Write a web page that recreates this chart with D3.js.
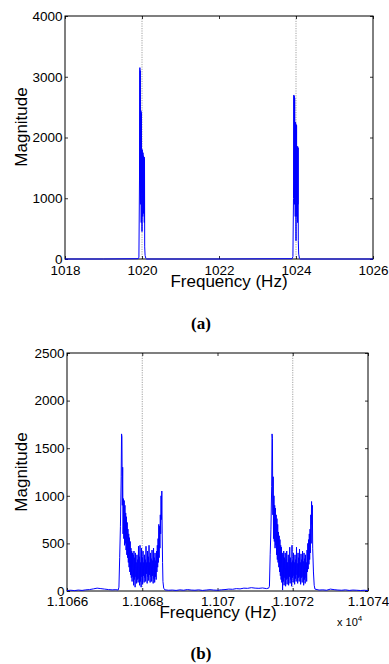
<!DOCTYPE html>
<html>
<head>
<meta charset="utf-8">
<script src="https://cdn.jsdelivr.net/npm/d3@7"></script>
<style>
  body { margin: 0; background: #fff; }
  svg { display: block; }
  text { font-family: "Liberation Sans", Arial, Helvetica, sans-serif; }
</style>
</head>
<body>
<div id="chart"></div>
<script>
// ---- data ----
// (a) low-frequency spectrum, [Hz, magnitude]
const spectrumA = [
  [1018.00, 0], [1019.00, 0], [1019.90, 5], [1019.92, 30],
  [1019.935, 1300], [1019.945, 3150], [1019.950, 1400], [1019.955, 3100],
  [1019.960, 900], [1019.965, 2450], [1019.970, 1200], [1019.975, 2430],
  [1019.980, 600], [1019.985, 2400], [1019.990, 1500], [1019.995, 1800],
  [1020.000, 450], [1020.005, 1800], [1020.010, 1100], [1020.015, 1750],
  [1020.020, 700], [1020.025, 1750], [1020.030, 1300], [1020.035, 1700],
  [1020.040, 750], [1020.045, 1680], [1020.050, 1100], [1020.055, 1680],
  [1020.060, 600], [1020.065, 1650], [1020.070, 200], [1020.080, 60],
  [1020.100, 10], [1020.120, 0],
  [1022.00, 0], [1023.90, 5], [1023.92, 40],
  [1023.935, 1000], [1023.945, 2700], [1023.950, 1300], [1023.955, 2680],
  [1023.960, 900], [1023.965, 2650], [1023.970, 1500], [1023.975, 2250],
  [1023.980, 700], [1023.985, 2250], [1023.990, 1400], [1023.995, 2230],
  [1024.000, 300], [1024.005, 2200], [1024.010, 1000], [1024.015, 2200],
  [1024.020, 700], [1024.025, 1850], [1024.030, 1200], [1024.035, 1850],
  [1024.040, 600], [1024.045, 1850], [1024.050, 900], [1024.055, 1830],
  [1024.060, 300], [1024.070, 80], [1024.090, 10], [1024.110, 0],
  [1026.00, 0]
];
const markersA = [1020, 1024];
const xTicksA = [1018, 1020, 1022, 1024, 1026];
const yTicksA = [0, 1000, 2000, 3000, 4000];

// (b) high-frequency spectrum, [Hz, magnitude]
const baseB1 = [
  [11066.0, 5], [11066.1, 8], [11066.2, 4], [11066.3, 10], [11066.4, 6],
  [11066.5, 12], [11066.6, 15], [11066.7, 22], [11066.8, 30], [11066.9, 25],
  [11067.0, 20], [11067.1, 15], [11067.2, 12], [11067.3, 14]
];
const clusterB1 = [
  [11067.36, 10], [11067.38, 40], [11067.40, 350], [11067.42, 680],
  [11067.44, 1200], [11067.45, 1650], [11067.46, 1620], [11067.47, 900],
  [11067.48, 1300], [11067.49, 600], [11067.50, 970], [11067.51, 550],
  [11067.52, 950], [11067.53, 480], [11067.54, 900], [11067.55, 500],
  [11067.56, 820], [11067.57, 430], [11067.58, 780], [11067.59, 380],
  [11067.60, 720], [11067.61, 350], [11067.62, 650], [11067.63, 300],
  [11067.64, 600], [11067.65, 250], [11067.66, 560], [11067.67, 200],
  [11067.68, 520], [11067.69, 170], [11067.70, 450], [11067.71, 140],
  [11067.72, 420], [11067.73, 100], [11067.74, 400], [11067.75, 150],
  [11067.76, 380], [11067.77, 60], [11067.78, 420], [11067.79, 120],
  [11067.80, 350], [11067.81, 40], [11067.82, 400], [11067.83, 150],
  [11067.84, 300], [11067.85, 80], [11067.86, 380], [11067.87, 120],
  [11067.88, 330], [11067.89, 90], [11067.90, 470], [11067.91, 130],
  [11067.92, 360], [11067.93, 60], [11067.94, 480], [11067.95, 100],
  [11067.96, 300], [11067.97, 40], [11067.98, 450], [11067.99, 150],
  [11068.00, 350], [11068.01, 70], [11068.02, 420], [11068.03, 160],
  [11068.04, 300], [11068.05, 90], [11068.06, 380], [11068.07, 140],
  [11068.08, 330], [11068.09, 100], [11068.10, 470], [11068.11, 180],
  [11068.12, 300], [11068.13, 80], [11068.14, 420], [11068.15, 150],
  [11068.16, 360], [11068.17, 110], [11068.18, 480], [11068.19, 170],
  [11068.20, 300], [11068.21, 90], [11068.22, 400], [11068.23, 150],
  [11068.24, 340], [11068.25, 100], [11068.26, 430], [11068.27, 160],
  [11068.28, 320], [11068.29, 80], [11068.30, 450], [11068.31, 130],
  [11068.32, 350], [11068.33, 90], [11068.34, 400], [11068.35, 150],
  [11068.36, 320], [11068.37, 120], [11068.38, 420], [11068.39, 200],
  [11068.40, 480], [11068.41, 250], [11068.42, 550], [11068.43, 300],
  [11068.44, 700], [11068.45, 350], [11068.46, 680], [11068.47, 450],
  [11068.48, 800], [11068.49, 600], [11068.50, 1000], [11068.51, 750],
  [11068.52, 1050], [11068.53, 600], [11068.54, 300], [11068.55, 100],
  [11068.57, 30], [11068.60, 12]
];
const baseB2 = [
  [11068.7, 8], [11068.8, 10], [11068.9, 6], [11069.0, 12], [11069.1, 8],
  [11069.2, 15], [11069.3, 10], [11069.4, 8], [11069.5, 12], [11069.6, 6],
  [11069.7, 10], [11069.8, 14], [11069.9, 10], [11070.0, 8], [11070.1, 12],
  [11070.2, 15], [11070.3, 20], [11070.4, 18], [11070.5, 25], [11070.6, 22],
  [11070.7, 30], [11070.8, 28], [11070.9, 35], [11071.0, 30], [11071.1, 28],
  [11071.2, 32], [11071.3, 25]
];
const clusterB2 = [
  [11071.36, 30], [11071.38, 50], [11071.40, 380], [11071.42, 650],
  [11071.44, 1100], [11071.45, 1650], [11071.46, 1600], [11071.47, 800],
  [11071.48, 1200], [11071.49, 550], [11071.50, 1000], [11071.51, 520],
  [11071.52, 900], [11071.53, 450], [11071.54, 870], [11071.55, 480],
  [11071.56, 800], [11071.57, 380], [11071.58, 760], [11071.59, 330],
  [11071.60, 700], [11071.61, 300], [11071.62, 620], [11071.63, 250],
  [11071.64, 580], [11071.65, 200], [11071.66, 540], [11071.67, 160],
  [11071.68, 480], [11071.69, 120], [11071.70, 460], [11071.71, 90],
  [11071.72, 400], [11071.73, 10], [11071.74, 380], [11071.75, 100],
  [11071.76, 420], [11071.77, 60], [11071.78, 350], [11071.79, 140],
  [11071.80, 400], [11071.81, 50], [11071.82, 330], [11071.83, 120],
  [11071.84, 420], [11071.85, 70], [11071.86, 300], [11071.87, 130],
  [11071.88, 380], [11071.89, 60], [11071.90, 330], [11071.91, 150],
  [11071.92, 460], [11071.93, 80], [11071.94, 350], [11071.95, 120],
  [11071.96, 300], [11071.97, 50], [11071.98, 480], [11071.99, 140],
  [11072.00, 320], [11072.01, 90], [11072.02, 400], [11072.03, 160],
  [11072.04, 300], [11072.05, 70], [11072.06, 380], [11072.07, 130],
  [11072.08, 330], [11072.09, 100], [11072.10, 460], [11072.11, 170],
  [11072.12, 290], [11072.13, 80], [11072.14, 400], [11072.15, 140],
  [11072.16, 350], [11072.17, 100], [11072.18, 440], [11072.19, 150],
  [11072.20, 300], [11072.21, 70], [11072.22, 390], [11072.23, 140],
  [11072.24, 330], [11072.25, 90], [11072.26, 420], [11072.27, 150],
  [11072.28, 310], [11072.29, 60], [11072.30, 400], [11072.31, 120],
  [11072.32, 340], [11072.33, 80], [11072.34, 380], [11072.35, 140],
  [11072.36, 300], [11072.37, 100], [11072.38, 430], [11072.39, 200],
  [11072.40, 500], [11072.41, 230], [11072.42, 540], [11072.43, 280],
  [11072.44, 600], [11072.45, 330], [11072.46, 650], [11072.47, 400],
  [11072.48, 800], [11072.49, 500], [11072.50, 940], [11072.51, 700],
  [11072.52, 900], [11072.53, 450], [11072.55, 200], [11072.57, 60],
  [11072.59, 20]
];
const baseB3 = [
  [11072.7, 10], [11072.8, 12], [11072.9, 8], [11073.0, 20], [11073.1, 14],
  [11073.2, 10], [11073.3, 8], [11073.4, 12], [11073.5, 6], [11073.6, 10],
  [11073.7, 8], [11073.8, 5], [11073.9, 8], [11074.0, 5]
];
const markersB = [11068, 11072];
const xTicksB = [11066, 11068, 11070, 11072, 11074];
const xTickLabelsB = ["1.1066", "1.1068", "1.107", "1.1072", "1.1074"];
const yTicksB = [0, 500, 1000, 1500, 2000, 2500];

const W = 389, H = 664;
const svg = d3.select("#chart").append("svg")
  .attr("width", W).attr("height", H);
svg.append("rect").attr("width", W).attr("height", H).attr("fill", "#fff");

function panel(cfg) {
  const x = d3.scaleLinear().domain(cfg.xDomain).range([cfg.left, cfg.right]);
  const y = d3.scaleLinear().domain(cfg.yDomain).range([cfg.bottom, cfg.top]);
  const g = svg.append("g");

  // dotted reference lines
  g.selectAll(".marker")
    .data(cfg.markers)
    .enter().append("line")
    .attr("x1", d => x(d)).attr("x2", d => x(d))
    .attr("y1", cfg.top).attr("y2", cfg.bottom)
    .attr("stroke", "#8c8c8c").attr("stroke-width", 0.8)
    .attr("stroke-dasharray", "1.2,1.2");

  // axes with inward ticks (matlab style)
  const fmtX = cfg.xLabels ? (d, i) => cfg.xLabels[i] : d3.format("d");
  const ax = [
    g.append("g").attr("transform", `translate(0,${cfg.bottom})`)
      .call(d3.axisBottom(x).tickValues(cfg.xTicks).tickSize(-3).tickPadding(cfg.xPad).tickFormat(fmtX)),
    g.append("g").attr("transform", `translate(0,${cfg.top})`)
      .call(d3.axisTop(x).tickValues(cfg.xTicks).tickSize(-3).tickFormat("")),
    g.append("g").attr("transform", `translate(${cfg.left},0)`)
      .call(d3.axisLeft(y).tickValues(cfg.yTicks).tickSize(-3).tickPadding(2.5).tickFormat(d3.format("d"))),
    g.append("g").attr("transform", `translate(${cfg.right},0)`)
      .call(d3.axisRight(y).tickValues(cfg.yTicks).tickSize(-3).tickFormat(""))
  ];
  ax.forEach(a => {
    a.select(".domain").remove();
    a.selectAll("line").attr("stroke", "#000").attr("stroke-width", 0.8);
    a.selectAll("text").attr("fill", "#000").style("font-size", "13.5px")
      .style("font-family", "'Liberation Sans', Arial, sans-serif");
  });

  g.append("rect")
    .attr("x", cfg.left).attr("y", cfg.top)
    .attr("width", cfg.right - cfg.left).attr("height", cfg.bottom - cfg.top)
    .attr("fill", "none").attr("stroke", "#000").attr("stroke-width", 1);

  const line = d3.line().x(d => x(d[0])).y(d => y(d[1]));
  g.append("path")
    .datum(cfg.series)
    .attr("d", line)
    .attr("fill", "none")
    .attr("stroke", "#0000ff")
    .attr("stroke-width", 1)
    .attr("stroke-linejoin", "round");

  // labels
  g.append("text")
    .attr("x", cfg.xLabelX).attr("y", cfg.xLabelY)
    .attr("text-anchor", "middle")
    .style("font-size", "17px")
    .text("Frequency (Hz)");
  g.append("text")
    .attr("transform", `translate(${cfg.yLabelX},${cfg.yLabelY}) rotate(-90)`)
    .attr("text-anchor", "middle")
    .style("font-size", "17px")
    .text("Magnitude");
  g.append("text")
    .attr("x", 201).attr("y", cfg.captionY)
    .attr("text-anchor", "middle")
    .style("font-family", "'Liberation Serif', 'Times New Roman', serif")
    .style("font-weight", "bold")
    .style("font-size", "17px")
    .text(cfg.caption);
  return { x, y, g };
}

panel({
  left: 65, right: 373, top: 16, bottom: 259,
  xDomain: [1018, 1026], yDomain: [0, 4000],
  xTicks: xTicksA, yTicks: yTicksA, markers: markersA,
  series: spectrumA, xPad: 6,
  xLabelX: 229, xLabelY: 287, yLabelX: 27, yLabelY: 127,
  caption: "(a)", captionY: 329
});

const pb = panel({
  left: 67, right: 368, top: 353, bottom: 591,
  xDomain: [11066, 11074], yDomain: [0, 2500],
  xTicks: xTicksB, xLabels: xTickLabelsB, yTicks: yTicksB, markers: markersB,
  series: baseB1.concat(clusterB1, baseB2, clusterB2, baseB3), xPad: 5,
  xLabelX: 218, xLabelY: 618, yLabelX: 27, yLabelY: 472,
  caption: "(b)", captionY: 659
});

// exponent note
const expo = pb.g.append("text").attr("x", 337).attr("y", 626)
  .style("font-size", "11px");
expo.append("tspan").text("x 10");
expo.append("tspan").attr("dy", -5).style("font-size", "8px").text("4");
</script>
</body>
</html>
